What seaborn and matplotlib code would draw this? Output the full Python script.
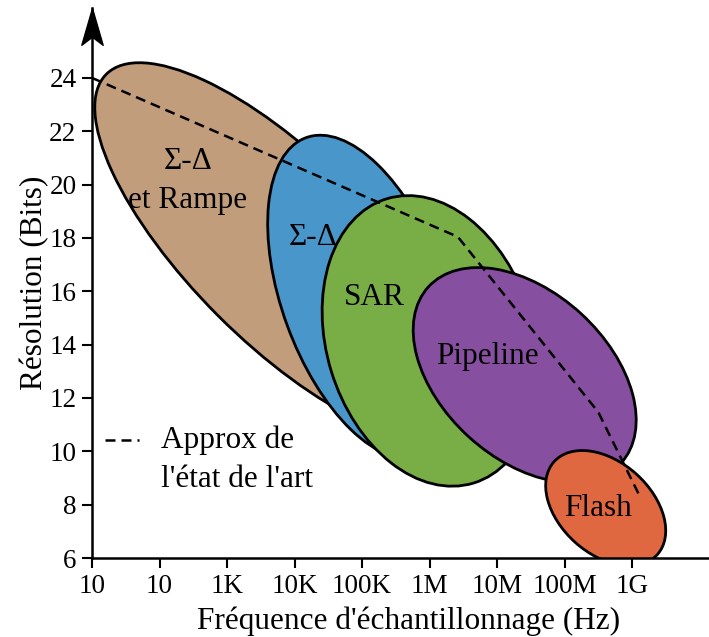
import numpy as np
import pandas as pd
import matplotlib
matplotlib.use("Agg")
import matplotlib.pyplot as plt
from matplotlib.patches import Ellipse
from matplotlib.path import Path
from matplotlib.transforms import Affine2D, ScaledTranslation
import seaborn as sns

# axis: one unit = one decade of sampling frequency
freq_ticks = [0, 1, 2, 3, 4, 5, 6, 7, 8]
freq_labels = ["10", "10", "1K", "10K", "100K", "1M", "10M", "100M", "1G"]
bit_ticks = [6, 8, 10, 12, 14, 16, 18, 20, 22, 24]

# ADC families: centre (decade, bits), half axes (pt) and tilt (deg)
adc_names = ["Σ-Δ\net Rampe", "Σ-Δ", "SAR", "Pipeline", "Flash"]
adc_x = [2.83, 4.03, 5.01, 6.41, 7.61]
adc_y = [17.51, 15.79, 14.14, 12.86, 7.87]
adc_major = [180, 122, 107, 94, 50]
adc_minor = [66, 59, 74.5, 60, 33]
adc_tilt = [45, 70, 73, 42.5, 42]
adc_colors = ["#C19D7C", "#4996CA", "#79AE47", "#874F9F", "#DF6840"]
label_x = [1.42, 3.27, 4.18, 5.85, 7.50]
label_y = [20.15, 18.0, 15.75, 13.54, 7.84]

# state of the art frontier
sota = pd.DataFrame({"freq": [0.0, 5.42, 7.50, 8.12],
                     "bits": [24.0, 18.04, 11.47, 8.29]})

sns.set_theme(style="white")
plt.rcParams["font.family"] = ["Liberation Serif", "DejaVu Serif"]

fig = plt.figure(figsize=(7.09, 6.37), dpi=100)
ax = fig.add_axes([0.1298, 0.124, 0.893, 0.8634])
ax.set_xlim(0, 9.38)
ax.set_ylim(6, 26.62)

pt_trans = Affine2D().scale(1 / 72) + fig.dpi_scale_trans
for i in range(len(adc_names)):
    tr = pt_trans + ScaledTranslation(adc_x[i], adc_y[i], ax.transData)
    e = Ellipse((0, 0), 2 * adc_major[i], 2 * adc_minor[i], angle=-adc_tilt[i],
                transform=tr, facecolor=adc_colors[i], edgecolor="black",
                linewidth=2.0, zorder=2 + i)
    ax.add_patch(e)
    e.set_clip_path(ax.patch)
    ax.text(label_x[i], label_y[i], adc_names[i], ha="center", va="center",
            fontsize=22.5, color="black", zorder=10, linespacing=1.45)

sns.lineplot(data=sota, x="freq", y="bits", sort=False, ax=ax, color="black",
             linewidth=1.8, linestyle=(0, (4, 2.4)), zorder=9,
             label="Approx de\nl'état de l'art")

leg = ax.legend(loc="upper left", bbox_to_anchor=(0.0, 0.264), frameon=False,
                fontsize=22.5, handlelength=1.1, handletextpad=0.7,
                borderaxespad=0)
for t in leg.get_texts():
    t.set_color("black")
    t.set_linespacing(1.45)
# put the dash sample level with the first text line
h = leg.legend_handles[0]
h.set_ydata(np.asarray(h.get_ydata()) + 14.4)

ax.set_xticks(freq_ticks)
ax.set_xticklabels(freq_labels)
ax.set_yticks(bit_ticks)
ax.tick_params(axis="both", labelsize=19.5, direction="out", length=7.2,
               width=1.5, color="black", labelcolor="black", pad=4,
               bottom=True, left=True)
for s in ["top", "right"]:
    ax.spines[s].set_visible(False)
for s in ["left", "bottom"]:
    ax.spines[s].set_linewidth(1.8)
    ax.spines[s].set_color("black")
    ax.spines[s].set_zorder(12)

# arrow heads on the axes
up = Path([(0, 0), (0.29, -1), (0, -0.78), (-0.29, -1), (0, 0)], closed=True)
right = Path([(0, 0), (-1, 0.29), (-0.78, 0), (-1, -0.29), (0, 0)], closed=True)
ax.plot(0, 1, marker=up, markersize=53, color="black",
        transform=ax.get_xaxis_transform(), clip_on=False, zorder=13)
ax.plot(1, 0, marker=right, markersize=53, color="black",
        transform=ax.get_yaxis_transform(), clip_on=False, zorder=13)

ax.set_xlabel("Fréquence d'échantillonnage (Hz)", fontsize=22.5, color="black", labelpad=6)
ax.set_ylabel("Résolution (Bits)", fontsize=22.5, color="black", labelpad=0)

fig.savefig("out.png", dpi=100)
